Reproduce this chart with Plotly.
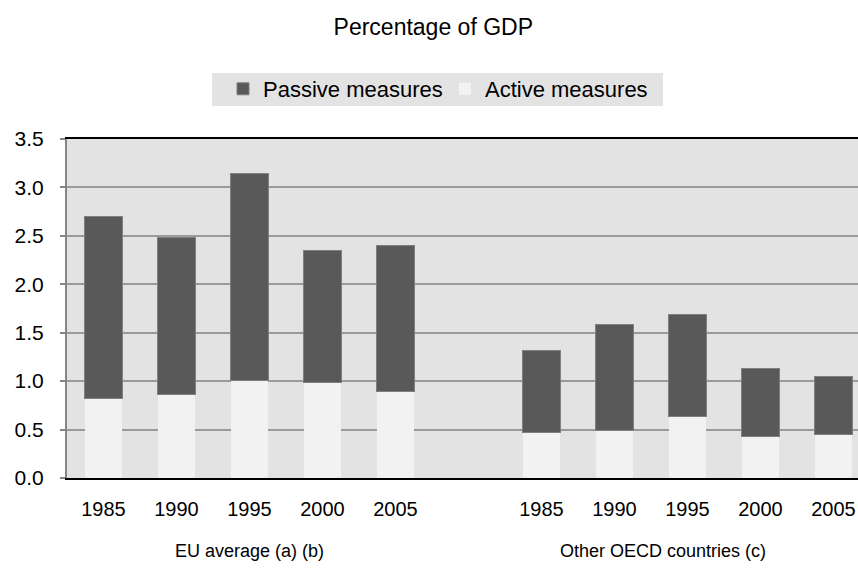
import plotly.graph_objects as go

# ---- data ----
eu_years = ["1985", "1990", "1995", "2000", "2005"]
oecd_years = ["1985", "1990", "1995", "2000", "2005"]
eu_active = [0.82, 0.86, 1.01, 0.99, 0.89]
eu_passive = [1.88, 1.62, 2.13, 1.36, 1.51]
oecd_active = [0.47, 0.49, 0.64, 0.43, 0.45]
oecd_passive = [0.85, 1.10, 1.05, 0.70, 0.60]
group_labels = ["EU average (a) (b)", "Other OECD countries (c)"]

# categories: EU years, one empty slot, OECD years
tick_labels = eu_years + [""] + oecd_years
positions = list(range(len(tick_labels)))
eu_pos = positions[:len(eu_years)]
oecd_pos = positions[len(eu_years) + 1:]

x_all = eu_pos + oecd_pos
active_all = eu_active + oecd_active
passive_all = eu_passive + oecd_passive

FONT = "Liberation Sans, Arial, sans-serif"
PASSIVE_C = "#595959"
ACTIVE_C = "#f2f2f2"
PLOT_BG = "#e3e3e3"

fig = go.Figure()
fig.add_trace(go.Bar(x=x_all, y=active_all, name="Active measures",
                     marker=dict(color=ACTIVE_C, line=dict(width=0))))
fig.add_trace(go.Bar(x=x_all, y=passive_all, name="Passive measures",
                     marker=dict(color=PASSIVE_C, line=dict(color="#7f7f7f", width=1))))

# legend background box
fig.add_shape(type="rect", xref="paper", yref="paper",
              x0=0.1833, x1=0.7535, y0=1.0973, y1=1.1947,
              fillcolor=PLOT_BG, line=dict(width=0), layer="below")

# group label centres (data units along the category axis)
group_centres = [sum(eu_pos) / len(eu_pos), 7.67]
for lab, xc in zip(group_labels, group_centres):
    fig.add_annotation(x=xc, y=-0.215, xref="x", yref="paper",
                       text=lab, showarrow=False, yanchor="middle",
                       font=dict(family=FONT, size=18, color="black"))

fig.update_layout(
    width=858, height=588,
    margin=dict(l=67, r=0, t=139, b=110),
    paper_bgcolor="white", plot_bgcolor=PLOT_BG,
    barmode="stack", bargap=0.48,
    font=dict(family=FONT, size=20, color="black"),
    title=dict(text="Percentage of GDP", x=0.505, xanchor="center",
               y=1 - 27 / 588, yanchor="middle", xref="container", yref="container",
               font=dict(family=FONT, size=23, color="black")),
    legend=dict(orientation="h", traceorder="reversed",
                x=(223 - 67) / 791, xanchor="left", y=(478 - 89) / 339, yanchor="middle",
                bgcolor="rgba(0,0,0,0)", font=dict(family=FONT, size=22, color="black"),
                entrywidth=177, entrywidthmode="pixels"),
    showlegend=True,
)

fig.update_xaxes(range=[-0.5, 10.5 - 12 / 73], tickmode="array",
                 tickvals=positions, ticktext=tick_labels,
                 showline=True, linecolor="black", linewidth=2, mirror=True,
                 showgrid=False, ticks="", ticklabelstandoff=12,
                 tickfont=dict(family=FONT, size=20, color="black"))
fig.update_yaxes(range=[0, 3.5], dtick=0.5, tickformat=".1f",
                 showline=True, linecolor="#868686", linewidth=2,
                 showgrid=True, gridcolor="#9a9a9a", gridwidth=2,
                 ticks="outside", ticklen=5, tickcolor="#868686", tickwidth=2,
                 ticklabelstandoff=12, zeroline=False,
                 tickfont=dict(family=FONT, size=21, color="black"))

fig.write_html("out.html")
